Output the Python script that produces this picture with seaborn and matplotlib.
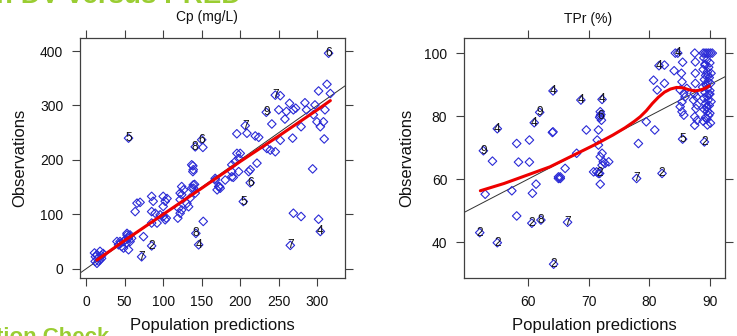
import numpy as np
import pandas as pd
import matplotlib
matplotlib.use("Agg")
import matplotlib.pyplot as plt
import seaborn as sns

sns.set_style("ticks")
plt.rcParams["font.family"] = ["Liberation Sans", "DejaVu Sans"]

# ---------------- Data: Cp (mg/L) ----------------
cp_pred = [10.8, 14, 18, 16, 11.7, 20, 18, 14, 12, 22, 16, 20,
           40, 42, 53, 55, 50.6, 57, 59, 46, 48.5, 44, 55, 48.5, 53, 57, 55, 52, 45,
           74.4, 63.6, 66, 70,
           85, 87, 85, 89.6, 100, 102.6, 100, 100, 102.6, 105, 96, 85, 92, 104,
           120, 122, 119, 124, 133, 122, 124, 126.4, 124, 122, 130.8, 135, 137, 139,
           140.7, 139.4, 141.6, 139, 137, 138.5, 138.5,
           152, 167.5, 172, 174, 180.5, 189, 191, 167.5, 170, 173,
           189, 189, 193.5, 198, 200, 195.7, 198, 211, 213, 221.7, 234.6, 239, 245.5,
           195.6, 208.7, 219.5, 224,
           241, 250, 252, 268, 258, 260, 264, 269, 272, 252, 279, 284, 286, 295,
           299.6, 304, 308, 309, 310, 297, 301.7, 317, 312.6, 294,
           269, 279, 301.7, 151.5]
cp_obs = [29, 26, 32, 20, 13.5, 24, 16.5, 10, 22, 28, 14, 19,
          50, 44, 65, 59, 53, 50, 56, 41, 38, 50, 56, 50, 62, 62, 35, 47, 47,
          59, 105, 120.5, 122,
          133, 124, 105, 102, 133, 124, 114.5, 96, 90, 129, 99, 84, 84, 93,
          111, 102, 93, 108, 114, 127, 136, 145, 151, 139, 120, 130, 148, 154,
          155, 148, 139, 182, 191, 189, 178.5,
          87, 166, 151, 148, 163, 169, 168, 163, 145, 151,
          178.5, 191, 197, 203, 212, 212, 178.5, 178.5, 182, 194, 221, 218, 215,
          248, 249, 244, 241.5,
          266, 292, 236, 240, 275, 289, 304, 292, 295, 318, 261, 305, 292, 283,
          270, 261, 270, 238.5, 292, 301, 326.6, 322, 339, 183.5,
          102, 96, 91, 223]
# identified observations (ID labels)
cp_id_pred = [55, 314.7, 141.6, 150, 245.5, 233.8, 206.5, 213, 204, 142.4, 146, 85, 72, 304, 265]
cp_id_obs = [240, 396, 224, 237, 319, 287.5, 263, 158, 123.5, 65, 44, 42, 22, 68.5, 43]
cp_id_lab = ["5", "6", "8", "6", "7", "9", "7", "6", "5", "8", "4", "2", "7", "4", "7"]
# loess smooth
cp_smooth_x = [14, 50, 100, 150, 200, 250, 300, 317]
cp_smooth_y = [16, 52, 100, 148, 197, 244, 292, 309]

# ---------------- Data: TPr (%) ----------------
tp_pred = [54.1, 58.1, 60.2, 58.4, 60.2, 64.0, 65.0, 52.9, 57.3, 60.7, 61.3, 65.0,
           58.1, 65.3, 71.3, 71.9,
           71.9, 72.0, 71.8, 72.1,
           64.1, 69.6, 71.6, 71.4, 71.6, 72.2, 71.9, 72.4, 72.7, 72.2, 73.3, 70.8,
           71.6, 68.0, 66.1, 65.3,
           78.2, 79.5, 80.9, 80.7, 81.3, 82.5, 84.1, 82.5, 84.3, 85.5,
           85.3, 85.4, 85.1, 85.7, 85.4, 85.1, 85.4, 85.7, 85.9, 86.2,
           87.5, 87.6, 87.6, 87.6, 87.4, 87.3, 87.7, 87.5, 87.9, 87.5, 87.9, 87.8,
           89.0, 89.5, 90.0, 89.2, 89.8, 88.9, 89.6, 90.2, 89.3, 89.9, 89.1, 89.7,
           90.1, 89.4, 88.8, 89.6, 90.0, 89.2, 89.8, 89.5, 89.0, 89.7, 90.2, 89.3,
           89.9, 89.4, 89.1, 89.6, 90.0, 89.8, 89.3, 89.5, 88.9, 90.1, 89.6, 89.2,
           89.7, 89.4, 90.0, 89.5,
           88.9, 89.2, 89.5, 89.8, 90.1, 90.4]
tp_obs = [65.7, 71.3, 72.4, 65.4, 65.4, 74.8, 60.7, 55.2, 56.3, 55.5, 58.4, 60.2,
          48.3, 60.2, 62.3, 58.4,
          81.4, 80.5, 79.6, 78.7,
          75.0, 75.6, 75.6, 72.4, 70.8, 68.2, 67.1, 65.5, 65.0, 64.4, 65.5, 62.3,
          61.8, 68.2, 63.4, 60.7,
          71.3, 78.2, 75.6, 91.4, 88.3, 90.4, 94.4, 96.2, 100.0, 97.1,
          93.6, 90.9, 88.3, 87.2, 84.5, 83.0, 81.4, 80.3, 86.1, 88.8,
          100.0, 97.2, 93.6, 90.4, 87.2, 85.1, 82.4, 79.8, 78.7, 77.1, 83.5, 86.1,
          98.5, 97.8, 96.9, 96.2, 95.5, 94.8, 94.1, 93.6, 92.9, 92.2, 91.6, 91.0,
          90.4, 89.8, 89.2, 88.7, 88.1, 87.5, 86.9, 86.3, 85.7, 85.1, 84.6, 84.0,
          83.4, 82.8, 82.1, 81.5, 80.9, 80.2, 79.6, 79.0, 78.4, 77.8, 77.2, 96.5,
          93.0, 90.0, 87.0, 83.0,
          100.0, 100.0, 100.0, 100.0, 100.0, 100.0]
tp_id_pred = [52.6, 54.9, 61.0, 61.9, 64.1, 60.6, 62.1, 52.0, 54.9, 64.2, 66.5,
              77.9, 82.1, 68.7, 72.2, 71.9, 71.8, 81.6, 84.7, 85.5, 89.1]
tp_id_obs = [69.0, 76.0, 77.9, 81.2, 88.0, 46.0, 47.0, 43.0, 39.8, 33.0, 46.3,
             60.2, 61.8, 85.1, 85.3, 80.0, 61.8, 96.0, 100.0, 72.7, 71.8]
tp_id_lab = ["9", "4", "4", "9", "4", "2", "8", "2", "2", "2", "7",
             "7", "2", "4", "4", "6", "2", "4", "4", "5", "2"]
tp_smooth_x = [52.1, 56.0, 60.6, 63.6, 67.5, 71.4, 74.0, 76.0, 77.5, 78.5, 79.5,
               80.5, 81.5, 82.5, 83.5, 84.5, 85.5, 86.5, 87.5, 88.5, 89.5, 89.9]
tp_smooth_y = [56.3, 58.6, 61.8, 63.9, 67.6, 71.3, 74.0, 76.3, 78.3, 79.8, 81.7,
               84.0, 86.0, 87.6, 88.6, 89.1, 89.0, 88.4, 88.0, 88.3, 89.1, 89.6]

BLUE = "#2a2ad6"
FRAME = "#404040"

fig = plt.figure(figsize=(7.37, 3.36), dpi=100)
ax1 = fig.add_axes([80 / 737, 58 / 336, 265 / 737, 240 / 336])
ax2 = fig.add_axes([464 / 737, 58 / 336, 261 / 737, 240 / 336])


def panel(ax, px, oy, idx, idy, idl, sx, sy, title, xlim, ylim, xt, yt, tx, ty, ylx):
    ax.axline((0, 0), slope=1, color="#303030", lw=0.7, zorder=1)
    df = pd.DataFrame({"pred": px, "obs": oy})
    sns.scatterplot(data=df, x="pred", y="obs", ax=ax, marker="D", s=19,
                    facecolor="none", edgecolor=BLUE, linewidth=0.8, zorder=2)
    dfi = pd.DataFrame({"pred": idx, "obs": idy})
    sns.scatterplot(data=dfi, x="pred", y="obs", ax=ax, marker="D", s=19,
                    facecolor="none", edgecolor=BLUE, linewidth=0.8, zorder=2)
    for xx, yy, lab in zip(idx, idy, idl):
        ax.text(xx, yy, lab, ha="center", va="center", fontsize=8.5,
                color="#111111", zorder=3)
    sm = pd.DataFrame({"x": sx, "y": sy})
    sns.lineplot(data=sm, x="x", y="y", ax=ax, color="#ee0000", lw=2.2,
                 estimator=None, sort=True, zorder=4)
    ax.set_xlim(*xlim)
    ax.set_ylim(*ylim)
    ax.set_xticks(xt)
    ax.set_yticks(yt)
    ax.tick_params(direction="out", length=6, width=0.8, color=FRAME,
                   top=True, right=True, labeltop=False, labelright=False,
                   labelsize=10, pad=6, labelcolor="#111111")
    for s in ax.spines.values():
        s.set_color(FRAME)
        s.set_linewidth(0.9)
    ax.set_xlabel("Population predictions", fontsize=12, color="#111111")
    ax.set_ylabel("Observations", fontsize=12, color="#111111")
    ax.xaxis.set_label_coords(0.5, -0.165)
    ax.yaxis.set_label_coords(ylx, 0.5)
    ax.text(tx, ty, title, ha="center", va="center", fontsize=10,
            color="#111111", transform=ax.transAxes)


panel(ax1, cp_pred, cp_obs, cp_id_pred, cp_id_obs, cp_id_lab, cp_smooth_x, cp_smooth_y,
      "Cp (mg/L)", (-8, 336), (-17, 424), [0, 50, 100, 150, 200, 250, 300],
      [0, 100, 200, 300, 400], 0.478, 1.0875, -0.2)
panel(ax2, tp_pred, tp_obs, tp_id_pred, tp_id_obs, tp_id_lab, tp_smooth_x, tp_smooth_y,
      "TPr (%)", (49.4, 92.5), (28.6, 104.8), [60, 70, 80, 90],
      [40, 60, 80, 100], 0.475, 1.079, -0.19)

# slide title fragments (cut off in the source image)
fig.text(-0.005, 1.012, "r. DV versus PRED", color="#9acd32", fontsize=20,
         fontweight="bold", ha="left", va="center")
fig.text(-0.005, -0.005, "tion Check", color="#9acd32", fontsize=16,
         fontweight="bold", ha="left", va="center")

fig.savefig("out.png", dpi=100)
